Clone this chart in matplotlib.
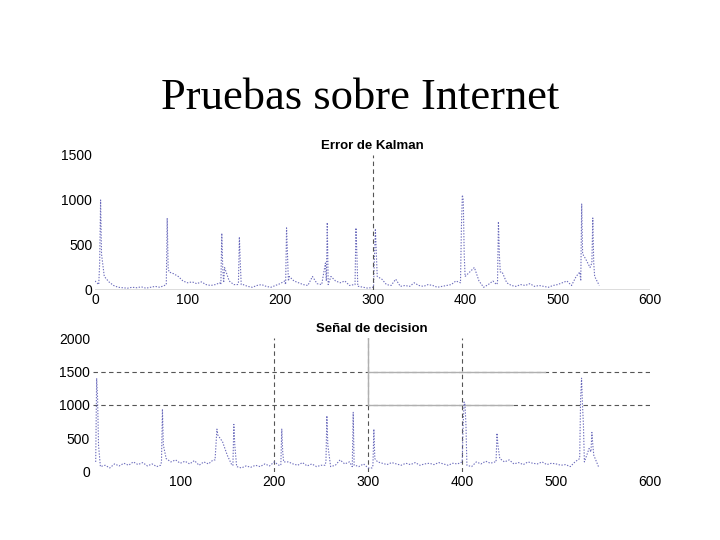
import matplotlib
matplotlib.use("Agg")
import matplotlib.pyplot as plt
import numpy as np

# ---------------------------------------------------------------------------
# Data (sample index vs. value)
# ---------------------------------------------------------------------------

# Error de Kalman: slow baseline every 5 samples + isolated spikes
kalman_base_x = np.arange(0, 546, 5)
kalman_base_y = [
    100, 300, 150, 90, 50, 30, 25, 20, 30, 25, 35, 20, 30, 40, 30, 50,
    200, 180, 150, 100, 80, 90, 70, 90, 60, 50, 60, 80, 250, 100, 60, 80,
    60, 40, 30, 50, 60, 40, 30, 50, 70, 100, 150, 100, 80, 60, 50, 150,
    70, 60, 100, 150, 100, 80, 100, 50, 60, 40, 30, 20, 30, 150, 120, 60,
    50, 120, 40, 50, 40, 80, 50, 40, 60, 50, 30, 40, 50, 60, 100, 80,
    150, 200, 250, 100, 30, 60, 100, 80, 200, 80, 50, 40, 60, 50, 70, 40,
    50, 40, 30, 50, 60, 80, 100, 50, 150, 100, 350, 250, 150, 50,
]
kalman_spike_x = [4, 6, 7, 77, 78, 79, 136, 137, 138, 139, 154, 156, 157, 158,
                  206, 207, 208, 209, 249, 251, 252, 281, 282, 283, 284,
                  301, 303, 304, 396, 397, 398, 399, 434, 436, 437, 438,
                  524, 526, 527, 537, 538, 539]
kalman_spike_y = [60, 1000, 400, 60, 800, 250, 60, 630, 250, 80, 60, 590, 300, 60,
                  60, 690, 400, 100, 300, 750, 60, 60, 690, 400, 40,
                  30, 680, 400, 700, 1055, 1000, 400, 60, 760, 400, 200,
                  200, 955, 400, 300, 800, 300]
kalman_marks = [300]

# Señal de decision
decision_base_x = np.arange(10, 546, 5)
decision_base_y = [
    150, 80, 100, 60, 120, 90, 130, 100, 150, 110, 140, 90, 120, 80, 150, 200,
    150, 180, 130, 160, 120, 170, 100, 150, 120, 180, 550, 450, 250, 100, 80, 60,
    90, 70, 100, 80, 120, 90, 150, 100, 150, 150, 120, 100, 140, 90, 120, 80,
    100, 150, 80, 100, 180, 120, 150, 100, 80, 120, 60, 100, 150, 130, 110, 140,
    120, 100, 130, 110, 140, 100, 120, 130, 110, 140, 120, 100, 130, 120, 150, 100,
    80, 150, 120, 160, 130, 150, 200, 150, 180, 120, 140, 110, 150, 130, 120, 150,
    110, 130, 120, 100, 110, 80, 150, 200, 150, 350, 250, 80,
]
decision_spike_x = [11, 12, 13, 79, 81, 82, 137, 139, 156, 157, 158,
                    207, 208, 209, 254, 256, 257, 283, 284, 286, 304, 306, 307,
                    401, 402, 403, 404, 436, 437, 438, 526, 527, 528, 529,
                    537, 538, 539]
decision_spike_y = [1400, 1100, 400, 100, 940, 400, 180, 640, 100, 710, 400,
                    100, 640, 300, 100, 840, 400, 80, 890, 100, 60, 640, 200,
                    700, 1045, 1000, 700, 150, 580, 400, 1100, 1400, 1000, 700,
                    300, 590, 400]
decision_marks = [200, 300, 400]
thresholds = [1000, 1500]
threshold_solid_end = [453, 488]

LINE_COLOR = "#6c6cbc"
GUIDE_COLOR = "#555555"
SOFT_COLOR = "#b0b0b0"


def merge(base_x, base_y, spike_x, spike_y):
    x = np.concatenate([base_x, spike_x])
    y = np.concatenate([base_y, spike_y])
    order = np.argsort(x, kind="stable")
    return x[order], y[order]


def style_axes(ax, title):
    for side in ("top", "right", "left", "bottom"):
        ax.spines[side].set_visible(False)
    ax.tick_params(length=0, labelsize=10, pad=2)
    for lab in ax.get_xticklabels() + ax.get_yticklabels():
        lab.set_family("Liberation Sans")
    ax.set_title(title, fontsize=9.5, fontweight="bold", family="Liberation Sans", pad=4)


fig = plt.figure(figsize=(7.2, 5.4), dpi=100)
fig.text(0.5, 0.818, "Pruebas sobre Internet", ha="center", va="center",
         family="Liberation Serif", fontsize=32)

# --- top panel -------------------------------------------------------------
ax1 = fig.add_axes([0.132, 0.463, 0.771, 0.25])
kx, ky = merge(kalman_base_x, kalman_base_y, kalman_spike_x, kalman_spike_y)
ax1.plot(kx, ky, color=LINE_COLOR, lw=0.8, ls=(0, (1.2, 1.4)))
for m in kalman_marks:
    ax1.plot([m, m], [0, 1500], color=GUIDE_COLOR, lw=0.8, ls=(0, (4, 3)))
ax1.axhline(0, color=GUIDE_COLOR, lw=1.0)
ax1.set_xlim(0, 600)
ax1.set_ylim(0, 1500)
ax1.set_xticks([0, 100, 200, 300, 400, 500, 600])
ax1.set_yticks([0, 500, 1000, 1500])
style_axes(ax1, "Error de Kalman")

# --- bottom panel ----------------------------------------------------------
ax2 = fig.add_axes([0.129, 0.126, 0.774, 0.248])
dx, dy = merge(decision_base_x, decision_base_y, decision_spike_x, decision_spike_y)
for t, end in zip(thresholds, threshold_solid_end):
    ax2.plot([7, 600], [t, t], color=GUIDE_COLOR, lw=0.8, ls=(0, (4, 3)))
    ax2.plot([300, end], [t, t], color=SOFT_COLOR, lw=1.0)
for m in decision_marks:
    ax2.plot([m, m], [0, 2000], color=GUIDE_COLOR, lw=0.8, ls=(0, (4, 3)))
ax2.plot([300, 300], [1000, 2000], color=SOFT_COLOR, lw=1.0)
ax2.plot(dx, dy, color=LINE_COLOR, lw=0.8, ls=(0, (1.2, 1.4)))
ax2.set_xlim(7, 600)
ax2.set_ylim(0, 2000)
ax2.set_xticks([100, 200, 300, 400, 500, 600])
ax2.set_yticks([0, 500, 1000, 1500, 2000])
style_axes(ax2, "Señal de decision")

fig.savefig("out.png", dpi=100)
